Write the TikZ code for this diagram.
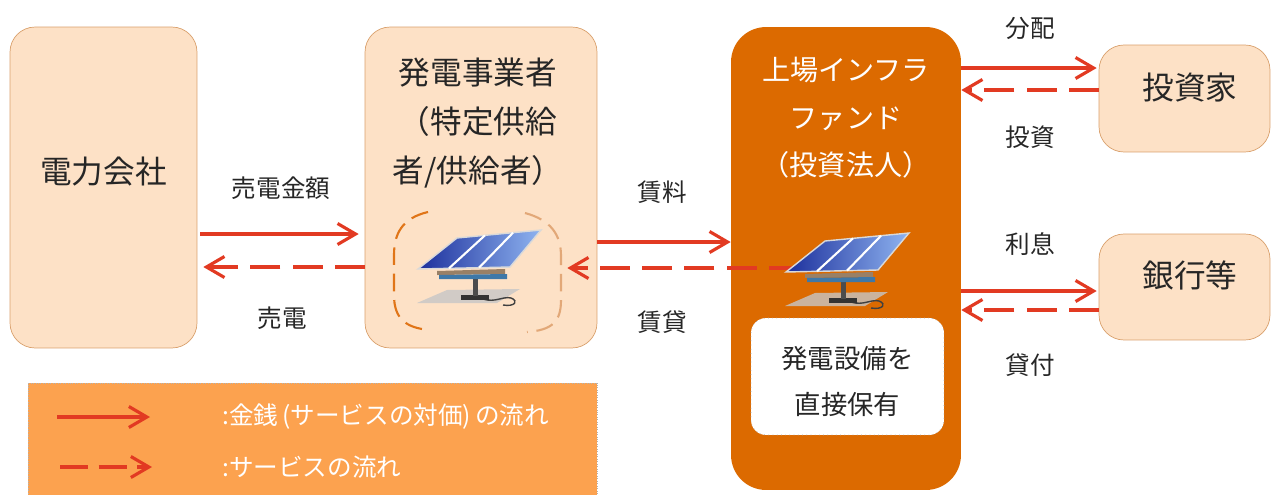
\documentclass[tikz,border=0pt]{standalone}
\usepackage{fontspec}
\setmainfont{Noto Sans CJK JP}
\usetikzlibrary{arrows.meta, positioning}

\definecolor{peach}{HTML}{FDE1C6}
\definecolor{peachline}{HTML}{D9A06C}
\definecolor{fundorange}{HTML}{DC6A00}
\definecolor{legendorange}{HTML}{FCA24F}
\definecolor{flowred}{HTML}{E23A22}
\definecolor{rimdark}{HTML}{E07518}
\definecolor{rimlight}{HTML}{E2A878}
\definecolor{panelblue}{HTML}{1C2F9C}
\definecolor{panellight}{HTML}{8FB4F0}
\definecolor{steelblue}{HTML}{3E78A8}

\tikzset{
    solarpanel/.pic={
        \fill[gray!45, opacity=0.8] (-58,26) -- (22,26) -- (45,12) -- (-28,13) -- cycle;
        \draw[black!75, line width=0.8pt] (8,22) .. controls (20,26) and (28,19) .. (36,21)
            .. controls (44,24) and (40,30) .. (28,28);
        \fill[black!80] (-14,18) rectangle (14,23);
        \fill[black!70] (-2.5,0) rectangle (2.5,19);
        \fill[gray!60!brown] (-38,-6) -- (30,-8) -- (30,-3) -- (-38,-2) -- cycle;
        \fill[steelblue] (-36,-2) -- (32,-3) -- (32,2) -- (-36,2) -- cycle;
        \shade[left color=panelblue, right color=panellight, draw=gray!30, line width=0.8pt]
            (-57,-8) -- (35,-10) -- (66,-47) -- (-18,-39) -- cycle;
        \draw[white, line width=1.2pt] (-26,-8.7) -- (10,-41.7) (4,-9.3) -- (38,-44.3);
    }
}

\begin{document}
\begin{tikzpicture}[
    x=0.02cm, y=-0.02cm,
    party/.style={
        rectangle,
        draw=peachline,
        fill=peach,
        rounded corners=0.5cm,
        inner sep=0pt
    },
    bigtext/.style={font=\fontsize{18pt}{28pt}\selectfont, align=center, text=black!85},
    fundtext/.style={font=\fontsize{16pt}{27pt}\selectfont, align=center, text=white},
    flowtext/.style={font=\fontsize{14pt}{18pt}\selectfont, text=black!85},
    money/.style={draw=flowred, line width=1.8pt, -{Straight Barb[length=3.6mm, width=4.2mm]}},
    service/.style={money, dash pattern=on 17pt off 7pt}
]

\useasboundingbox (0,0) rectangle (1271,494);

% boxes
\node[party, minimum width=3.74cm, minimum height=6.42cm] (power) at (103.5,187.5) {};
\node[party, minimum width=4.64cm, minimum height=6.42cm] (gen) at (481,187.5) {};
\node[rectangle, fill=fundorange, rounded corners=0.7cm, minimum width=4.6cm, minimum height=9.26cm] (fund) at (846,258.5) {};
\node[rectangle, draw=gray!70, dotted, fill=white, rounded corners=0.3cm, minimum width=3.86cm, minimum height=2.34cm] (hold) at (847.5,376.5) {};
\node[party, minimum width=3.42cm, minimum height=2.14cm] (investor) at (1184.5,98.5) {};
\node[party, minimum width=3.42cm, minimum height=2.12cm] (bank) at (1184.5,287) {};
\node[rectangle, draw=gray!60, densely dotted, fill=legendorange, minimum width=11.38cm, minimum height=2.4cm] (legend) at (312.5,443) {};

% box texts
\node[bigtext] (powername) at (103.5,172) {電力会社};
\node[bigtext] (genname) at (478,123) {発電事業者\\（特定供給\\者/供給者）};
\node[fundtext] (fundname) at (846,118) {上場インフラ\\ファンド\\（投資法人）};
\node[font=\fontsize{15pt}{26.5pt}\selectfont, align=center, text=black!85] (holdname) at (847.5,381.5) {発電設備を\\直接保有};
\node[bigtext] (investorname) at (1190,88) {投資家};
\node[bigtext] (bankname) at (1190,275) {銀行等};

% flows between the parties
\draw[money, shorten <=0.06cm, shorten >=0.12cm] (power.east |- 0,234) -- (gen.west |- 0,234);
\draw[service, shorten >=0.12cm] (gen.west |- 0,267) -- (power.east |- 0,267);
\draw[money] (gen.east |- 0,242) -- (fund.west |- 0,242);
\draw[service] ([xshift=1.36cm]fund.west |- 0,268) -- ([xshift=-0.6cm]gen.east |- 0,268);
\draw[money, shorten >=0.04cm] (fund.east |- 0,68) -- (investor.west |- 0,68);
\draw[service] (investor.west |- 0,90) -- (fund.east |- 0,90);
\draw[money, shorten >=0.04cm] (fund.east |- 0,291) -- (bank.west |- 0,291);
\draw[service] (bank.west |- 0,310) -- (fund.east |- 0,310);

\node[flowtext] (sales) at (281,188) {売電金額};
\node[flowtext] (sell) at (282,318) {売電};
\node[flowtext] (rent) at (662,192) {賃料};
\node[flowtext] (lease) at (662,322) {賃貸};
\node[flowtext] (payout) at (1030,28) {分配};
\node[flowtext] (invest) at (1030,137) {投資};
\node[flowtext] (interest) at (1030,244) {利息};
\node[flowtext] (loan) at (1030,365) {貸付};

% panels and the ring around the first one
\draw[rimdark, line width=1.2pt, dash pattern=on 10pt off 5pt]
    (428,212) .. controls (402,218) and (394,234) .. (394,255) -- (394,295)
    .. controls (394,318) and (405,328) .. (430,330);
\draw[rimlight, line width=1.2pt, dash pattern=on 10pt off 5pt]
    (525,213) .. controls (551,220) and (561,235) .. (561,256) -- (561,300)
    .. controls (561,322) and (552,330) .. (527,332);
\pic at (475,277) {solarpanel};
\pic at (843,280) {solarpanel};

% legend
\coordinate (keymoneyA) at (57,417);
\coordinate (keymoneyB) at (150,417);
\coordinate (keyserviceA) at (60,467);
\coordinate (keyserviceB) at (152,467);
\draw[money] (keymoneyA) -- (keymoneyB);
\draw[service, dash pattern=on 16pt off 6pt] (keyserviceA) -- (keyserviceB);
\node[flowtext, text=white, anchor=west] (keymoney) at (216,417) {:金銭\,(サービスの対価)\,の流れ};
\node[flowtext, text=white, anchor=west] (keyservice) at (216,467) {:サービスの流れ};

\end{tikzpicture}
\end{document}
